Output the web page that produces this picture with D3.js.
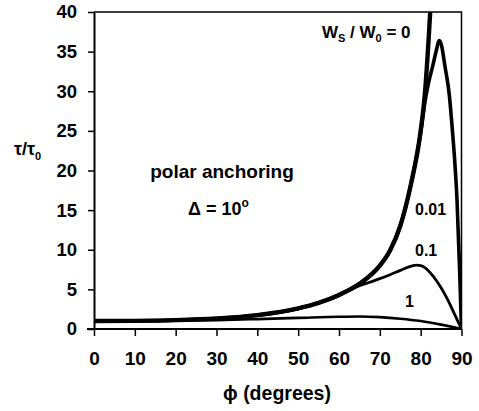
<!DOCTYPE html>
<html>
<head>
<meta charset="utf-8">
<script src="https://cdn.jsdelivr.net/npm/d3@7"></script>
<style>
  body { margin: 0; background: #fff; }
  text { font-family: "Liberation Sans", Arial, sans-serif; font-weight: bold; fill: #000; }
</style>
</head>
<body>
<script>
// values
var phiW0 = [0, 10, 20, 30, 40, 50, 55, 60, 65, 70, 72.5, 75, 77.5, 80, 81, 82, 82.5];
var tauW0 = [1.0, 1.03, 1.12, 1.33, 1.75, 2.6, 3.3, 4.3, 5.7, 8.0, 9.9, 13.0, 18.0, 25.0, 29.5, 37, 41.5];

var phiW001 = [0, 10, 20, 30, 40, 50, 55, 60, 65, 70, 72.5, 75, 77.5, 80, 81, 82, 83, 84, 84.5, 85, 86, 87, 87.7, 88.3, 88.9, 89.5, 90];
var tauW001 = [1.0, 1.03, 1.12, 1.33, 1.75, 2.6, 3.3, 4.3, 5.7, 8.0, 9.9, 13.0, 18.0, 24.8, 28.5, 31.2, 33.3, 35.5, 36.4, 36.0, 33.0, 29.6, 25.5, 21.5, 16.3, 8.0, 0];

var phiW01 = [0, 10, 20, 30, 40, 50, 55, 60, 62.5, 65, 67.5, 70, 72.5, 75, 77.5, 79, 80, 82, 84, 85, 86, 87, 88, 89, 90];
var tauW01 = [1.0, 1.03, 1.12, 1.32, 1.73, 2.55, 3.25, 4.2, 4.85, 5.45, 5.9, 6.35, 6.85, 7.4, 7.9, 8.05, 8.0, 7.3, 6.0, 5.2, 4.3, 3.3, 2.2, 1.1, 0];

var phiW1 = [0, 10, 20, 30, 40, 50, 60, 65, 70, 75, 80, 85, 90];
var tauW1 = [1.0, 1.01, 1.05, 1.12, 1.25, 1.4, 1.55, 1.58, 1.5, 1.3, 1.0, 0.55, 0];

var xTicks = [0, 10, 20, 30, 40, 50, 60, 70, 80, 90];
var yTicks = [0, 5, 10, 15, 20, 25, 30, 35, 40];

var svg = d3.select("body").append("svg")
    .attr("width", 479)
    .attr("height", 411);

var x = d3.scaleLinear().domain([0, 90]).range([94, 461.5]);
var y = d3.scaleLinear().domain([0, 40]).range([329, 12]);

svg.append("clipPath").attr("id", "plot")
  .append("rect")
    .attr("x", 94).attr("y", 12)
    .attr("width", 367.5).attr("height", 317);

// frame (top and right)
svg.append("path")
    .attr("d", "M" + x(0) + "," + y(40) + "H" + x(90) + "V" + y(0))
    .attr("fill", "none")
    .attr("stroke", "#000")
    .attr("stroke-width", 1.5);

var line = d3.line()
    .x(function(d) { return x(d[0]); })
    .y(function(d) { return y(d[1]); })
    .curve(d3.curveMonotoneX);

var series = [
  {phi: phiW1, tau: tauW1, w: 2.6},
  {phi: phiW01, tau: tauW01, w: 2.8},
  {phi: phiW001, tau: tauW001, w: 3.6},
  {phi: phiW0, tau: tauW0, w: 4.4}
];

svg.append("g").attr("clip-path", "url(#plot)")
  .selectAll("path")
  .data(series)
  .enter()
  .append("path")
    .attr("d", function(s) { return line(d3.zip(s.phi, s.tau)); })
    .attr("fill", "none")
    .attr("stroke", "#000")
    .attr("stroke-width", function(s) { return s.w; })
    .attr("stroke-linejoin", "round");

// axes
var xAxis = svg.append("g")
    .attr("transform", "translate(0," + y(0) + ")")
    .call(d3.axisBottom(x).tickValues(xTicks).tickSize(7).tickPadding(16).tickSizeOuter(0));
xAxis.selectAll("text").style("font-size", "19px");

var yAxis = svg.append("g")
    .attr("transform", "translate(" + x(0) + ",0)")
    .call(d3.axisLeft(y).tickValues(yTicks).tickSize(6).tickPadding(11).tickSizeOuter(0));
yAxis.selectAll("text").style("font-size", "18.5px");

svg.selectAll(".domain").attr("stroke-width", 2);
svg.selectAll(".tick line").attr("stroke-width", 1.5);
xAxis.select(".domain").attr("d", "M87,0H" + x(90));

// axis titles
svg.append("text")
    .attr("x", 277).attr("y", 400)
    .attr("text-anchor", "middle")
    .style("font-size", "19.5px")
    .text("\u03d5 (degrees)");

var yt = svg.append("text")
    .attr("x", 14).attr("y", 155)
    .style("font-size", "18px");
yt.append("tspan").text("\u03c4/\u03c4");
yt.append("tspan").attr("dy", 5).style("font-size", "11px").text("0");

// annotations
svg.append("text")
    .attr("x", 222).attr("y", 178)
    .attr("text-anchor", "middle")
    .style("font-size", "19px")
    .text("polar anchoring");

var dl = svg.append("text")
    .attr("x", 188).attr("y", 215)
    .style("font-size", "18px");
dl.append("tspan").text("\u0394 = 10");
dl.append("tspan").attr("dy", -8).style("font-size", "12px").text("o");

var ws = svg.append("text")
    .attr("x", 322).attr("y", 38)
    .style("font-size", "17px");
ws.append("tspan").text("W");
ws.append("tspan").attr("dy", 4).style("font-size", "11px").text("S");
ws.append("tspan").attr("dy", -4).text(" / W");
ws.append("tspan").attr("dy", 4).style("font-size", "11px").text("0");
ws.append("tspan").attr("dy", -4).text(" = 0");

svg.append("text").attr("x", 415).attr("y", 215).style("font-size", "16px").text("0.01");
svg.append("text").attr("x", 415).attr("y", 256).style("font-size", "16px").text("0.1");
svg.append("text").attr("x", 405).attr("y", 307).style("font-size", "16px").text("1");
</script>
</body>
</html>
